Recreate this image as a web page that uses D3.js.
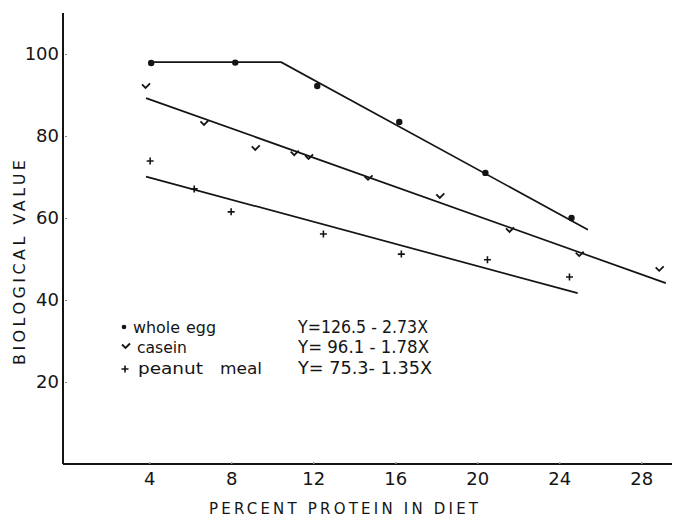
<!DOCTYPE html>
<html>
<head>
<meta charset="utf-8">
<script src="https://cdn.jsdelivr.net/npm/d3@7"></script>
<style>
  html, body { margin: 0; padding: 0; background: #fff; }
  svg text { font-family: "DejaVu Sans", "Liberation Sans", sans-serif; fill: #151515; white-space: pre; }
</style>
</head>
<body>
<svg id="chart" width="674" height="518"></svg>
<script>
// Biological value vs. percent protein in diet
const xTicks = [4, 8, 12, 16, 20, 24, 28];
const yTicks = [20, 40, 60, 80, 100];

// observed points: [percent protein, biological value]
const wholeEgg = [[4.1, 97.8], [8.2, 97.9], [12.2, 92.2], [16.2, 83.4], [20.4, 71.0], [24.6, 60.0]];
const casein = [[3.85, 92.2], [6.7, 83.2], [9.2, 77.1], [11.1, 75.8], [11.8, 74.9], [14.7, 69.8],
                [18.2, 65.4], [21.6, 57.1], [25.0, 51.2], [28.9, 47.6]];
const peanutMeal = [[4.05, 73.9], [6.2, 67.1], [8.0, 61.5], [12.5, 56.1], [16.3, 51.2], [20.5, 49.8], [24.5, 45.6]];

// fitted regressions Y = a - bX, drawn over the given X range
const eggFit = { a: 126.5, b: 2.73, plateau: 98, from: 4.1, to: 25.4 };
const caseinFit = { a: 96.1, b: 1.78, from: 3.85, to: 29.2 };
const peanutFit = { a: 75.3, b: 1.35, from: 3.85, to: 24.9 };

const legendNames = [["whole", "egg"], ["casein"], ["peanut", "meal"]];
const legendEquations = ["Y=126.5 - 2.73X", "Y= 96.1 - 1.78X", "Y= 75.3- 1.35X"];

const svg = d3.select("#chart");
const x = d3.scaleLinear().domain([-0.2, 29.5]).range([63, 672]);
const y = d3.scaleLinear().domain([0, 110]).range([464, 13]);
const ink = "#141414";

// axes
const xAxis = svg.append("g").attr("transform", `translate(0,${y(0)})`)
  .call(d3.axisBottom(x).tickValues(xTicks).tickSize(-2).tickPadding(8).tickFormat(d3.format("d")));
xAxis.select(".domain").attr("stroke", ink).attr("stroke-width", 2).attr("d", `M${x.range()[0]},0H${x.range()[1]}`);
xAxis.selectAll(".tick line").attr("stroke", "#999").attr("stroke-width", 1.5);
xAxis.selectAll(".tick text").attr("font-size", 18).attr("dy", "0.78em").attr("y", 7);

const yAxis = svg.append("g").attr("transform", `translate(${x(-0.2)},0)`)
  .call(d3.axisLeft(y).tickValues(yTicks).tickSize(-3).tickPadding(4).tickFormat(d3.format("d")));
yAxis.select(".domain").attr("stroke", ink).attr("stroke-width", 2).attr("d", `M0,${y.range()[1]}V${y.range()[0]}`);
yAxis.selectAll(".tick line").attr("stroke", "#888").attr("stroke-width", 1.2).attr("x1", 2).attr("x2", 4);
yAxis.selectAll(".tick text").attr("font-size", 18);
svg.selectAll(".tick text").attr("fill", ink).attr("font-family", "DejaVu Sans, sans-serif");

// axis titles
svg.append("text").attr("x", 209).attr("y", 514)
  .attr("font-size", 15).attr("textLength", 269).attr("lengthAdjust", "spacing").text("PERCENT PROTEIN IN DIET");
svg.append("text").attr("transform", "translate(25,365) rotate(-90)")
  .attr("font-size", 16).attr("textLength", 205).attr("lengthAdjust", "spacing").text("BIOLOGICAL VALUE");

// fitted lines
const line = d3.line().x(d => x(d[0])).y(d => y(d[1]));
const fitLine = f => [[f.from, f.a - f.b * f.from], [f.to, f.a - f.b * f.to]];
const eggBreak = (eggFit.a - eggFit.plateau) / eggFit.b;
const eggLine = [[eggFit.from, eggFit.plateau], [eggBreak, eggFit.plateau], [eggFit.to, eggFit.a - eggFit.b * eggFit.to]];
[eggLine, fitLine(caseinFit), fitLine(peanutFit)].forEach(pts => {
  svg.append("path").attr("d", line(pts)).attr("fill", "none").attr("stroke", ink).attr("stroke-width", 1.7);
});

// marker shapes
const drawDot = (g, cx, cy, r) => g.append("circle").attr("cx", cx).attr("cy", cy).attr("r", r).attr("fill", ink);
const drawCheck = (g, cx, cy) => g.append("path")
  .attr("d", `M${cx - 4},${cy - 1.5}L${cx - 0.5},${cy + 2}L${cx + 4},${cy - 2.5}`)
  .attr("fill", "none").attr("stroke", ink).attr("stroke-width", 1.8);
const drawPlus = (g, cx, cy) => g.append("path")
  .attr("d", `M${cx - 3.5},${cy}H${cx + 3.5}M${cx},${cy - 3.5}V${cy + 3.5}`)
  .attr("fill", "none").attr("stroke", ink).attr("stroke-width", 1.6);

const marks = svg.append("g");
wholeEgg.forEach(d => drawDot(marks, x(d[0]), y(d[1]), 3.2));
casein.forEach(d => drawCheck(marks, x(d[0]), y(d[1])));
peanutMeal.forEach(d => drawPlus(marks, x(d[0]), y(d[1])));

// legend
const legend = svg.append("g");
const rowY = [327, 347, 368];
const wordX = [[133, 186], [137], [138, 220]];
const wordLen = [[47, 30], [50], [65, 42]];
drawDot(legend, 124, rowY[0], 2.3);
drawCheck(legend, 126, rowY[1] - 1);
drawPlus(legend, 125, rowY[2] + 1);
legendNames.forEach((words, i) => {
  words.forEach((w, j) => {
    legend.append("text").attr("x", wordX[i][j]).attr("y", rowY[i]).attr("dy", "0.35em")
      .attr("font-size", 16).attr("textLength", wordLen[i][j]).attr("lengthAdjust", "spacingAndGlyphs").text(w);
  });
  legend.append("text").attr("x", 298).attr("y", rowY[i]).attr("dy", "0.35em")
    .attr("font-size", 17).attr("textLength", [130, 131, 134][i]).attr("lengthAdjust", "spacingAndGlyphs")
    .text(legendEquations[i]);
});
</script>
</body>
</html>
